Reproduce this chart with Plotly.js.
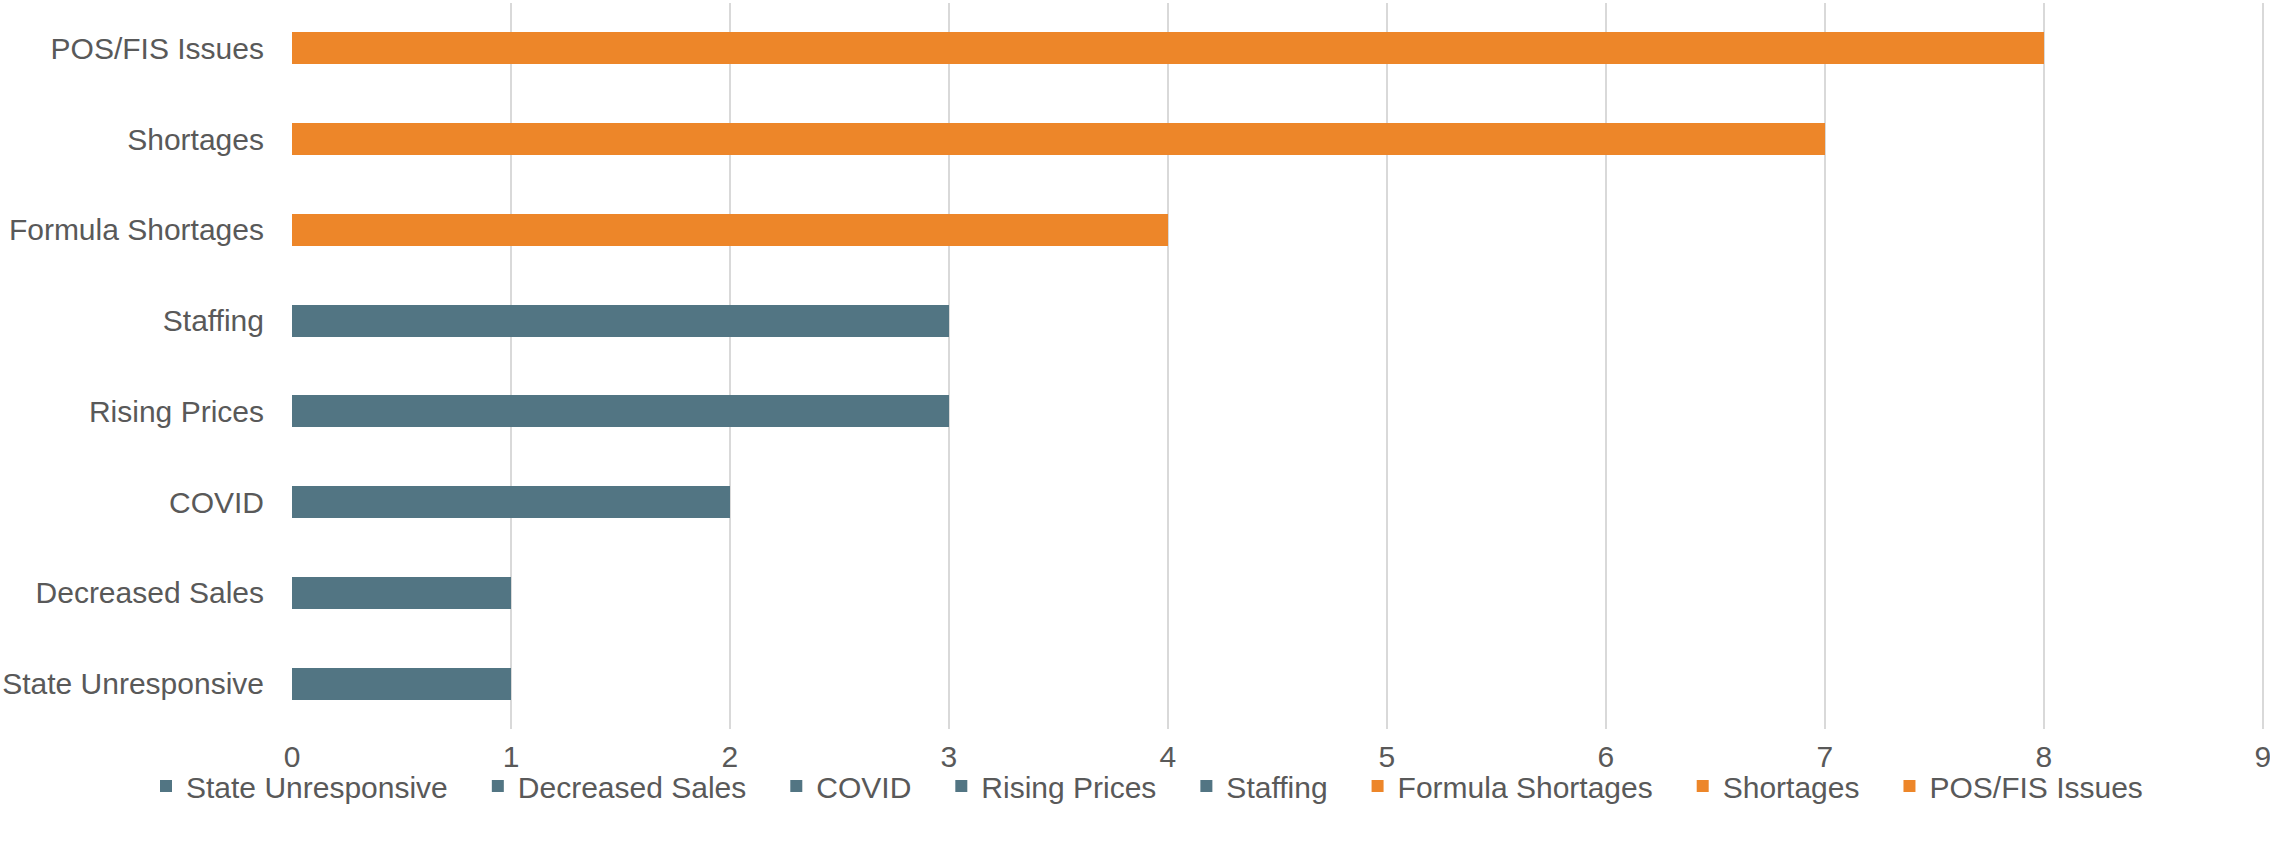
<!DOCTYPE html>
<html>
<head>
<meta charset="utf-8">
<script src="https://cdn.plot.ly/plotly-3.0.1.min.js"></script>
<style>
html,body{margin:0;padding:0;background:#fff;}
#chart{width:2270px;height:851px;}
</style>
</head>
<body>
<div id="chart"></div>
<script>
// Categories, bottom to top (also legend order)
const categories = ["State Unresponsive", "Decreased Sales", "COVID", "Rising Prices", "Staffing", "Formula Shortages", "Shortages", "POS/FIS Issues"];
const values = [1, 1, 2, 3, 3, 4, 7, 8];
const seriesColors = ["#527583", "#527583", "#527583", "#527583", "#527583", "#ED8629", "#ED8629", "#ED8629"];
const xTicks = [0, 1, 2, 3, 4, 5, 6, 7, 8, 9];

const textColor = "#595959";
const fontFamily = "'Liberation Sans', Arial, sans-serif";
const legendPad = "\u00a0\u00a0\u00a0";

const traces = categories.map((c, i) => ({
  type: "bar",
  orientation: "h",
  name: c + (i < categories.length - 1 ? legendPad : ""),
  y: [c],
  x: [values[i]],
  width: 0.355,
  marker: {color: seriesColors[i], line: {width: 0}},
  hoverinfo: "x+y"
}));

const layout = {
  width: 2270,
  height: 851,
  margin: {l: 292, r: 5, t: 3, b: 122},
  paper_bgcolor: "#ffffff",
  plot_bgcolor: "#ffffff",
  barmode: "stack",
  font: {family: fontFamily, size: 30, color: textColor},
  xaxis: {
    range: [0, 9.01],
    tickvals: xTicks,
    ticktext: xTicks.map(String),
    showgrid: true,
    gridcolor: "#d9d9d9",
    gridwidth: 2,
    zeroline: false,
    showline: false,
    ticks: "",
    ticklabelstandoff: 7,
    ticklabeloverflow: "allow",
    tickfont: {family: fontFamily, size: 30, color: textColor}
  },
  yaxis: {
    type: "category",
    categoryorder: "array",
    categoryarray: categories,
    showgrid: false,
    zeroline: false,
    showline: false,
    ticks: "",
    ticklabelstandoff: 27,
    tickfont: {family: fontFamily, size: 30, color: textColor}
  },
  showlegend: true,
  legend: {
    orientation: "h",
    xref: "paper",
    x: -0.074,
    xanchor: "left",
    yref: "paper",
    y: -0.0785,
    yanchor: "middle",
    traceorder: "normal",
    font: {family: fontFamily, size: 30, color: textColor},
    itemwidth: 30,
    bgcolor: "rgba(0,0,0,0)"
  }
};

Plotly.newPlot("chart", traces, layout, {displayModeBar: false, staticPlot: true});
</script>
</body>
</html>
